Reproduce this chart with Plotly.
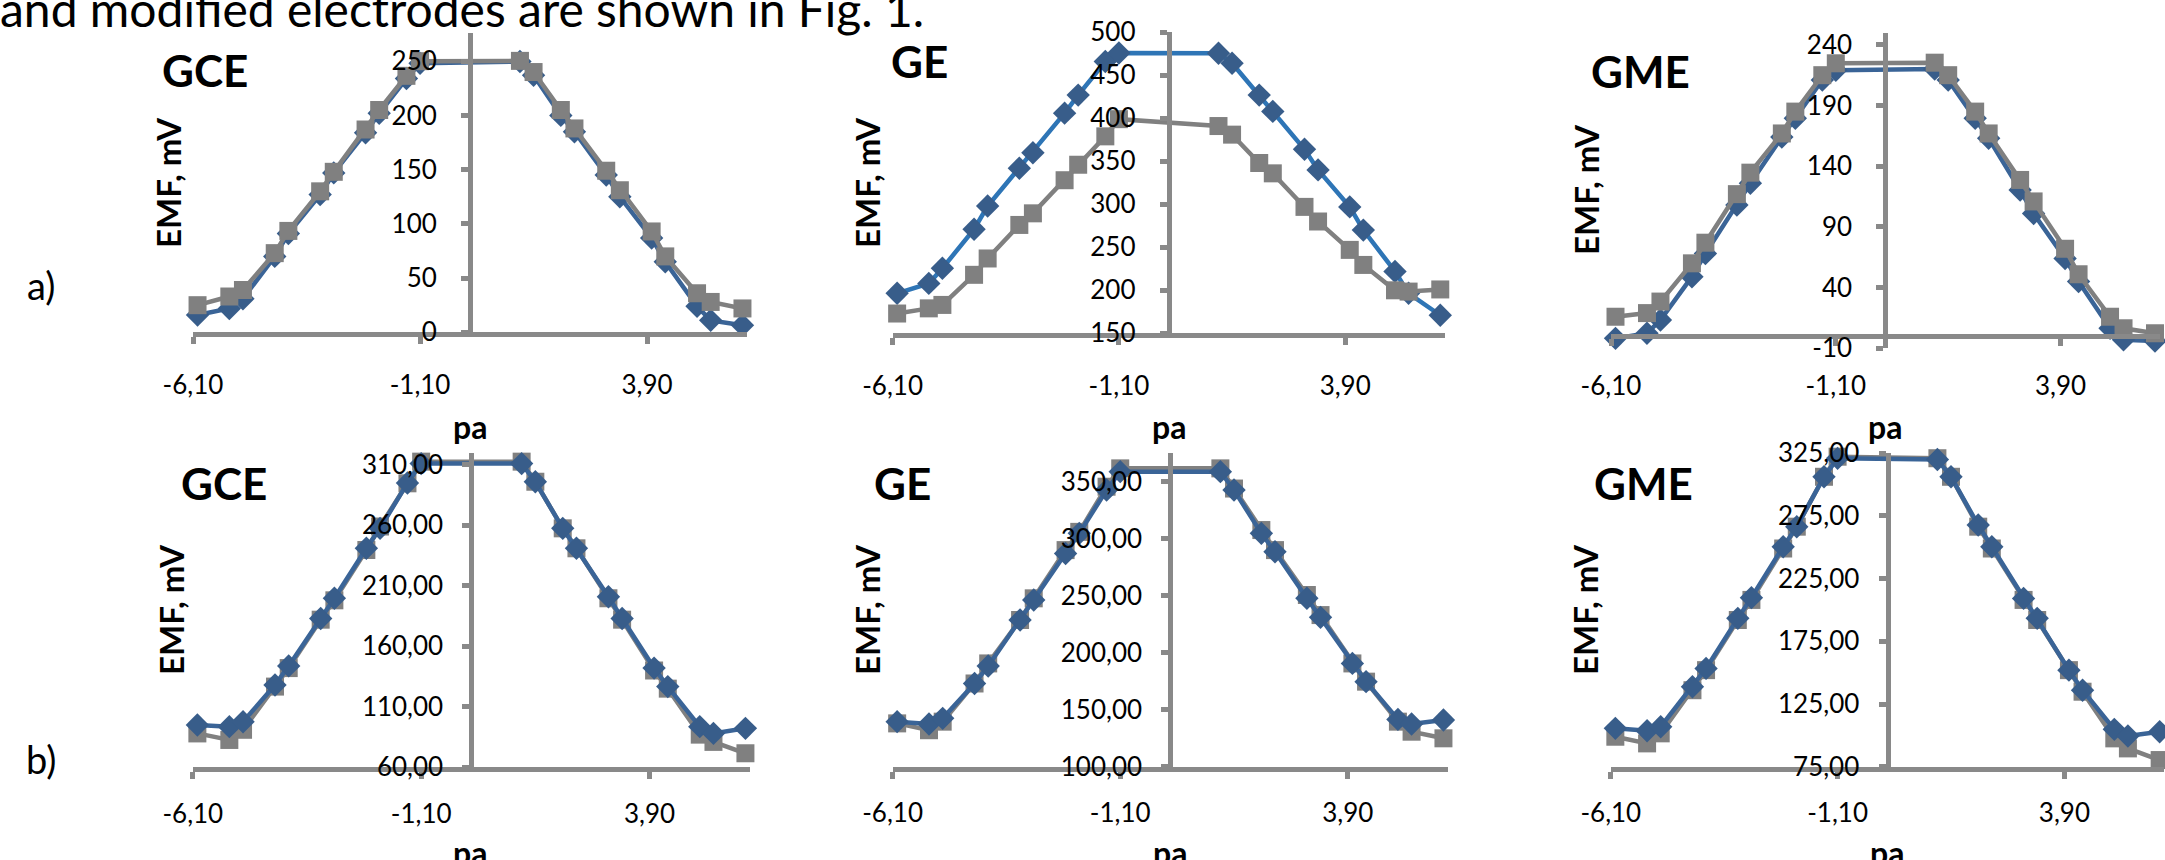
import plotly.graph_objects as go

W, H = 2165, 860

# ---------------- data ----------------
PA = [-6, -5.3, -5, -4.3, -4, -3.3, -3, -2.3, -2, -1.4, -1.1,
      1.1, 1.4, 2, 2.3, 3, 3.3, 4, 4.3, 5, 5.3, 6]

X_TICKS = [-6.1, -1.1, 3.9]
X_TICK_TEXT = ["-6,10", "-1,10", "3,90"]

# row a)
GCE_A_BLUE = [16, 22, 31, 70, 91, 127, 147, 184, 202, 234, 248,
              249.7, 237, 200, 185, 145, 125, 87, 65, 24, 11, 6.5]
GCE_A_GRAY = [25, 33, 39, 73, 93.5, 130, 148, 187, 205, 236.5, 250,
              250.3, 240, 205, 188, 149, 131, 93, 70, 36, 28, 22]
GE_A_BLUE = [196.5, 208, 225.6, 271, 298, 342, 360, 406, 427, 466, 476,
             475.6, 464, 427, 408, 364, 340, 297, 270, 222, 196.5, 171]
GE_A_GRAY = [173, 179, 183, 218, 237, 276, 289.5, 328, 346, 379, 399,
             391, 381, 348, 336, 297, 280, 247, 229.5, 200, 198.5, 201]
GME_A_BLUE = [-1.8, 2.4, 13.3, 49, 68, 108, 126, 164, 179.5, 211, 219,
              220, 211, 179.5, 163, 120.4, 101, 64, 45, 6.5, -3, -4]
GME_A_GRAY = [16, 19, 28.5, 60, 77, 117, 134.7, 167, 185, 215, 224.8,
              225.3, 215, 185, 167, 128.7, 111, 72, 51, 16, 6.5, 2.4]

# row b)
GCE_B_BLUE = [95, 93.6, 97.7, 128, 143.8, 183, 199.7, 241, 257.5, 295, 311,
              311, 296, 257.5, 241, 201, 183, 142, 126.7, 93.6, 88, 92.2]
GCE_B_GRAY = [88, 82.6, 91, 126.7, 142, 182, 198, 239.6, 259, 294.7, 312.6,
              312.6, 296, 257.5, 241, 199.7, 182, 140, 125, 87, 81, 71.6]
GE_B_BLUE = [139.5, 137.4, 142.4, 173, 188.3, 228.7, 246.2, 287, 304.7, 342.7, 358.8,
             358.8, 342.7, 304.7, 288.6, 247.7, 231, 190.6, 174.6, 141.5, 137.4, 141]
GE_B_GRAY = [138, 132, 139.5, 173, 190.6, 228.7, 247.7, 290, 306, 345.6, 361.7,
             361.7, 344, 307.6, 290, 250.6, 233, 190.6, 174.6, 139.5, 130.7, 124.9]
GME_B_BLUE = [105.6, 103.7, 106.9, 138.8, 153.4, 193.3, 209.8, 250.4, 266.4, 306.2, 320.9,
              320, 306.2, 267.7, 250.4, 209.2, 193.3, 152, 136, 104.8, 99.5, 102.9]
GME_B_GRAY = [98.9, 93.6, 101.6, 136, 152, 192, 208, 249, 266.4, 306.2, 322.2,
              321, 306.2, 266.4, 249, 208, 192, 152, 134.8, 97.6, 89.6, 80.3]

Y_TICKS_GCE_A = [0, 50, 100, 150, 200, 250]
Y_TICKS_GE_A = [150, 200, 250, 300, 350, 400, 450, 500]
Y_TICKS_GME_A = [-10, 40, 90, 140, 190, 240]
Y_TICKS_GCE_B = [60, 110, 160, 210, 260, 310]
Y_TICKS_GE_B = [100, 150, 200, 250, 300, 350]
Y_TICKS_GME_B = [75, 125, 175, 225, 275, 325]

TITLES = ["GCE", "GE", "GME", "GCE", "GE", "GME"]
ROW_LABELS = ["a)", "b)"]
Y_TITLE = "EMF, mV"
X_TITLE = "pa"
HEADER = "and modified electrodes are shown in Fig. 1."

# ---------------- styling / layout ----------------
FONT = "Lato, 'Open Sans', 'DejaVu Sans', sans-serif"
BLUE_MARK = "#385D8A"
BLUE_LINE_DARK = "#3A6497"
BLUE_LINE_LIGHT = "#2E75B6"
GRAY = "#808080"
AXIS = "#898989"


def fmt_int(v):
    return str(v)


def fmt_dec(v):
    return f"{v:.2f}".replace(".", ",")


panels = [
    dict(blue=GCE_A_BLUE, gray=GCE_A_GRAY, yr=[0, 276], yt=Y_TICKS_GCE_A, fmt=fmt_int,
         px=(193, 747), py=(33, 332.3), xpos=None, gray_top=True, bline=BLUE_LINE_DARK,
         ystand=19, xstand=18,
         title=(205, 70), ylab=(168, 183), pa=(470, 426)),
    dict(blue=GE_A_BLUE, gray=GE_A_GRAY, yr=[150, 500], yt=Y_TICKS_GE_A, fmt=fmt_int,
         px=(892.6, 1444.8), py=(32.3, 333.3), xpos=None, gray_top=True, bline=BLUE_LINE_LIGHT,
         ystand=19, xstand=18,
         title=(919, 61), ylab=(867, 183), pa=(1169, 426)),
    dict(blue=GME_A_BLUE, gray=GME_A_GRAY, yr=[-10, 250], yt=Y_TICKS_GME_A, fmt=fmt_int,
         px=(1611, 2159.5), py=(32.7, 348.3), xpos=0, gray_top=True, bline=BLUE_LINE_DARK,
         ystand=19, xstand=18,
         title=(1640, 71), ylab=(1586, 190), pa=(1885, 426)),
    dict(blue=GCE_B_BLUE, gray=GCE_B_GRAY, yr=[60, 320], yt=Y_TICKS_GCE_B, fmt=fmt_dec,
         px=(192.8, 750), py=(452.7, 767.3), xpos=None, gray_top=False, bline=BLUE_LINE_DARK,
         ystand=14, xstand=12,
         title=(224, 483), ylab=(171, 610), pa=(470, 852)),
    dict(blue=GE_B_BLUE, gray=GE_B_GRAY, yr=[100, 375], yt=Y_TICKS_GE_B, fmt=fmt_dec,
         px=(892.6, 1448), py=(453.2, 766.7), xpos=None, gray_top=False, bline=BLUE_LINE_DARK,
         ystand=14, xstand=12,
         title=(902, 483), ylab=(867, 610), pa=(1170, 852)),
    dict(blue=GME_B_BLUE, gray=GME_B_GRAY, yr=[75, 325], yt=Y_TICKS_GME_B, fmt=fmt_dec,
         px=(1610.8, 2164.2), py=(453.2, 766.7), xpos=None, gray_top=False, bline=BLUE_LINE_DARK,
         ystand=14, xstand=12,
         title=(1643, 483), ylab=(1585, 610), pa=(1887, 852)),
]

fig = go.Figure()
layout = dict(
    template="none",
    width=W, height=H, margin=dict(l=0, r=0, t=0, b=0, pad=0, autoexpand=False),
    paper_bgcolor="white", plot_bgcolor="rgba(0,0,0,0)",
    showlegend=False, font=dict(family=FONT, color="black"),
)
annotations = []


def fx(p):
    return p / W


def fy(p):
    return 1 - p / H


for i, p in enumerate(panels):
    n = i + 1
    xa = "x" if n == 1 else f"x{n}"
    ya = "y" if n == 1 else f"y{n}"
    xk = "xaxis" if n == 1 else f"xaxis{n}"
    yk = "yaxis" if n == 1 else f"yaxis{n}"
    x0, x1 = p["px"]
    ytop, ybot = p["py"]
    y0min, y0max = p["yr"]
    # y axis crosses at pa = 0
    yaxis_x = x0 + (0 + 6.1) / 12.2 * (x1 - x0)
    axis_common = dict(showgrid=False, zeroline=False, showline=True, linecolor=AXIS,
                       linewidth=5, ticks="outside", ticklen=7, tickwidth=5, tickcolor=AXIS,
                       automargin=False,
                       tickfont=dict(family=FONT, size=26, color="black"), fixedrange=True)
    xaxis = dict(domain=[fx(x0), fx(x1)], range=[-6.1, 6.1], tickmode="array",
                 tickvals=X_TICKS, ticktext=X_TICK_TEXT, ticklabelstandoff=p["xstand"],
                 **axis_common)
    if p["xpos"] is None:
        xaxis["anchor"] = ya
    else:
        xline = ybot - (p["xpos"] - y0min) / (y0max - y0min) * (ybot - ytop)
        xaxis["anchor"] = "free"
        xaxis["position"] = fy(xline)
    yaxis = dict(domain=[fy(ybot), fy(ytop)], range=p["yr"], tickmode="array",
                 tickvals=p["yt"], ticktext=[p["fmt"](v) for v in p["yt"]],
                 anchor="free", position=fx(yaxis_x), ticklabelstandoff=p["ystand"],
                 **axis_common)
    layout[xk] = xaxis
    layout[yk] = yaxis

    blue_tr = go.Scatter(x=PA, y=p["blue"], xaxis=xa, yaxis=ya, mode="lines+markers",
                         line=dict(color=p["bline"], width=4.5),
                         marker=dict(symbol="diamond", size=18, color=BLUE_MARK, line_width=0),
                         cliponaxis=False)
    gray_tr = go.Scatter(x=PA, y=p["gray"], xaxis=xa, yaxis=ya, mode="lines+markers",
                         line=dict(color=GRAY, width=4.5),
                         marker=dict(symbol="square", size=18, color=GRAY, line_width=0),
                         cliponaxis=False)
    if p["gray_top"]:
        fig.add_trace(blue_tr)
        fig.add_trace(gray_tr)
    else:
        fig.add_trace(gray_tr)
        fig.add_trace(blue_tr)

    tx, ty = p["title"]
    annotations.append(dict(text=f"<b>{TITLES[i]}</b>", x=fx(tx), y=fy(ty), xref="paper", yref="paper",
                            xanchor="center", yanchor="middle", showarrow=False,
                            font=dict(family=FONT, size=44, color="black")))
    lx, ly = p["ylab"]
    annotations.append(dict(text=f"<b>{Y_TITLE}</b>", x=fx(lx), y=fy(ly), xref="paper", yref="paper",
                            xanchor="center", yanchor="middle", showarrow=False, textangle=-90,
                            font=dict(family=FONT, size=33, color="black")))
    ax_, ay_ = p["pa"]
    annotations.append(dict(text=f"<b>{X_TITLE}</b>", x=fx(ax_), y=fy(ay_), xref="paper", yref="paper",
                            xanchor="center", yanchor="middle", showarrow=False,
                            font=dict(family=FONT, size=32, color="black")))

annotations.append(dict(text=ROW_LABELS[0], x=fx(41), y=fy(285), xref="paper", yref="paper",
                        xanchor="center", yanchor="middle", showarrow=False,
                        font=dict(family=FONT, size=38, color="black")))
annotations.append(dict(text=ROW_LABELS[1], x=fx(41), y=fy(759), xref="paper", yref="paper",
                        xanchor="center", yanchor="middle", showarrow=False,
                        font=dict(family=FONT, size=38, color="black")))
annotations.append(dict(text=HEADER, x=fx(-2), y=fy(9), xref="paper", yref="paper",
                        xanchor="left", yanchor="middle", showarrow=False,
                        font=dict(family=FONT, size=48, color="black")))

layout["annotations"] = annotations
fig.update_layout(**layout)
fig.write_html("out.html", config={"displayModeBar": False},
               post_script="document.body.style.margin='0px';")
